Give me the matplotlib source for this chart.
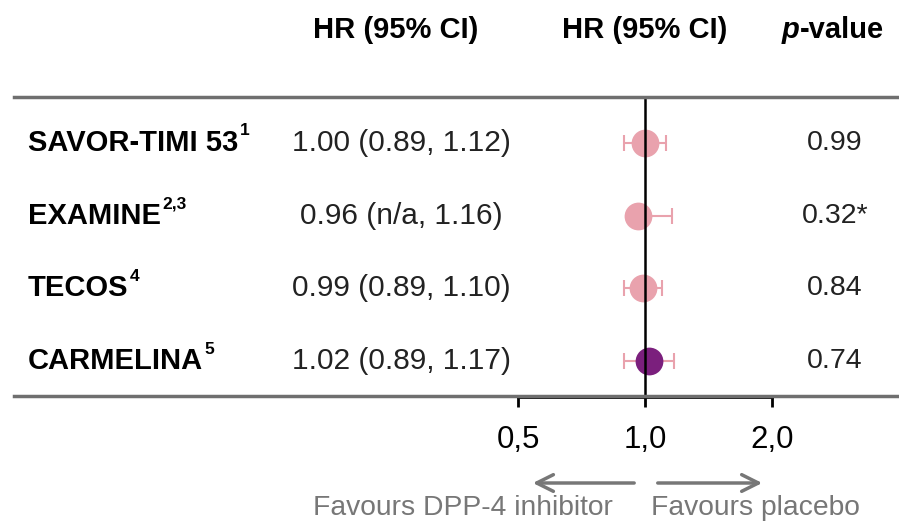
import matplotlib
matplotlib.use("Agg")
import matplotlib.pyplot as plt
from matplotlib.lines import Line2D
from matplotlib.ticker import NullLocator
from matplotlib.transforms import blended_transform_factory

plt.rcParams['font.family'] = ['Liberation Sans', 'DejaVu Sans']

# data
trials = ['SAVOR-TIMI 53', 'EXAMINE', 'TECOS', 'CARMELINA']
refs = ['1', '2,3', '4', '5']
hr = [1.00, 0.96, 0.99, 1.02]
ci_low = [0.89, None, 0.89, 0.89]      # EXAMINE lower bound n/a
ci_high = [1.12, 1.16, 1.10, 1.17]
p_values = ['0.99', '0.32*', '0.84', '0.74']
marker_colors = ['#e9a2ad', '#e9a2ad', '#e9a2ad', '#7b1f7d']
ticks = [0.5, 1.0, 2.0]
tick_labels = ['0,5', '1,0', '2,0']

W, H = 899, 523
fig = plt.figure(figsize=(W / 100, H / 100), dpi=100)
fs = 21

# forest panel, placed so that the log axis runs 0.5 -> 2.0
ax = fig.add_axes([518 / W, 1 - 396 / H, 254 / W, 299 / H])
ax.set_xscale('log')
ax.set_xlim(0.5, 2.0)
ax.set_ylim(3.48, -0.63)
ax.patch.set_alpha(0)

for i in range(len(trials)):
    lo = hr[i] - ci_low[i] if ci_low[i] is not None else 0
    hi = ci_high[i] - hr[i]
    ax.errorbar(hr[i], i, xerr=[[lo], [hi]], fmt='none', ecolor='#e9a2ad',
                elinewidth=1.5, capsize=6, capthick=1.5, zorder=2, clip_on=False)
    ax.plot(hr[i], i, 'o', ms=20, color=marker_colors[i], mec='none',
            zorder=3, clip_on=False)

ax.axvline(1.0, color='black', lw=1.8, zorder=4)

for s in ['top', 'right', 'left']:
    ax.spines[s].set_visible(False)
ax.spines['bottom'].set_bounds(0.5, 2.0)
ax.spines['bottom'].set_linewidth(2)
ax.spines['bottom'].set_position(('outward', 1))
ax.set_yticks([])
ax.set_xticks(ticks)
ax.set_xticklabels(tick_labels)
ax.xaxis.set_minor_locator(NullLocator())
ax.tick_params(axis='x', length=7, width=2, labelsize=22.5, pad=13)

# gray horizontal rules across the whole figure
for ypix in [97, 396]:
    fig.add_artist(Line2D([14 / W, 1.0], [1 - ypix / H] * 2,
                          color='#6f6f6f', lw=2.5, zorder=1))

# headers
yh = 1 - 30 / H
fig.text(396 / W, yh, 'HR (95% CI)', ha='center', va='center',
         fontsize=fs, fontweight='bold')
fig.text(645 / W, yh, 'HR (95% CI)', ha='center', va='center',
         fontsize=fs, fontweight='bold')
tp = fig.text(782 / W, yh, 'p', ha='left', va='center', fontsize=fs,
              fontweight='bold', style='italic')
ax.annotate('-value', xy=(1, 0), xycoords=tp, ha='left', va='bottom',
            fontsize=fs, fontweight='bold')

# table columns
trans = blended_transform_factory(fig.transFigure, ax.transData)
for i, name in enumerate(trials):
    t = ax.text(28 / W, i, name, transform=trans, ha='left', va='center',
                fontsize=fs, fontweight='bold')
    ax.annotate(refs[i], xy=(1, 1), xycoords=t, xytext=(1, 4),
                textcoords='offset points', ha='left', va='top',
                fontsize=12.5, fontweight='bold')
    if ci_low[i] is None:
        ci_txt = f'{hr[i]:.2f} (n/a, {ci_high[i]:.2f})'
    else:
        ci_txt = f'{hr[i]:.2f} ({ci_low[i]:.2f}, {ci_high[i]:.2f})'
    ax.text(401 / W, i, ci_txt, transform=trans, ha='center', va='center',
            fontsize=21.5, color='#222222')
    ax.text(835 / W, i, p_values[i], transform=trans, ha='center',
            va='center', fontsize=20.5, color='#222222')

# direction arrows
gray = '#777777'
atr = blended_transform_factory(ax.transData, fig.transFigure)
ya = 1 - 483 / H
ax.annotate('', xy=(0.534, ya), xytext=(0.957, ya), xycoords=atr,
            textcoords=atr, arrowprops=dict(arrowstyle='->', color=gray,
                                            lw=2.5, mutation_scale=30))
ax.annotate('', xy=(1.925, ya), xytext=(1.056, ya), xycoords=atr,
            textcoords=atr, arrowprops=dict(arrowstyle='->', color=gray,
                                            lw=2.5, mutation_scale=30))
yl = 1 - 508 / H
fig.text(613 / W, yl, 'Favours DPP-4 inhibitor', ha='right', va='center',
         fontsize=20.3, color=gray)
fig.text(651 / W, yl, 'Favours placebo', ha='left', va='center',
         fontsize=20.3, color=gray)

fig.savefig('out.png', dpi=100)
